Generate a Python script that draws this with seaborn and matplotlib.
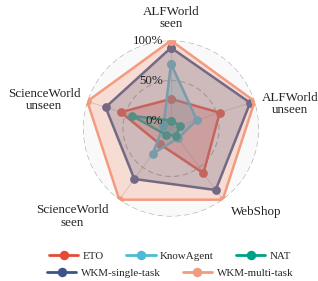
import numpy as np
import pandas as pd
import matplotlib
matplotlib.use("Agg")
import matplotlib.pyplot as plt
from matplotlib.lines import Line2D
import seaborn as sns

categories = ["ALFWorld\nseen", "ALFWorld\nunseen", "WebShop", "ScienceWorld\nseen", "ScienceWorld\nunseen"]
series_names = ["ETO", "KnowAgent", "NAT", "WKM-single-task", "WKM-multi-task"]
eto = [27, 54, 59, 14, 56]
knowagent = [71, 24, 5, 29, 0]
nat = [0, 2, 1, 0, 41]
wkm_single = [91, 94, 85, 68, 76]
wkm_multi = [100, 100, 100, 100, 100]
r_ticks = [0, 50, 100]
r_tick_labels = ["0%", "50%", "100%"]
colors = ["#E64B35", "#4DBBD5", "#00A087", "#3C5488", "#F39B7F"]

sns.set_style("white")
plt.rcParams["font.family"] = ["Liberation Serif", "DejaVu Serif"]

values = [eto, knowagent, nat, wkm_single, wkm_multi]
n = len(categories)
angles = np.linspace(0, 2 * np.pi, n, endpoint=False)

rows = []
for name, vals in zip(series_names, values):
    for i in list(range(n)) + [0]:
        rows.append({"model": name, "theta": angles[i], "value": vals[i]})
df = pd.DataFrame(rows)

fig = plt.figure(figsize=(3.18, 2.81), dpi=100)
ax = fig.add_axes([0.261, 0.2295, 0.5535, 0.6263], polar=True)
ax.set_theta_offset(np.pi / 2)
ax.set_theta_direction(-1)
ax.set_facecolor("#f9f9f9")
ax.spines["polar"].set_visible(False)

for k, (name, col) in enumerate(zip(series_names, colors)):
    sub = df[df["model"] == name]
    sns.lineplot(data=sub, x="theta", y="value", sort=False, estimator=None,
                 color=col, marker="o", markersize=6.3, markeredgewidth=0,
                 linewidth=1.8, ax=ax, legend=False, zorder=3 + k)
    ax.fill(sub["theta"].values, sub["value"].values, color=col, alpha=0.3,
            linewidth=0, zorder=2 + k)

ax.set_xlabel("")
ax.set_ylabel("")
ax.set_ylim(-10, 100)
ax.set_yticks(r_ticks)
ax.set_yticklabels([])
ax.set_xticks(angles)
ax.set_xticklabels([])
ax.yaxis.grid(True, linestyle=(0, (5, 3)), color="#aaaaaa", linewidth=0.8)
ax.xaxis.grid(True, linestyle="-", color="#cccccc", linewidth=0.6)
ax.tick_params(length=0)

for v, lab in zip(r_ticks, r_tick_labels):
    ax.annotate(lab, xy=(0, v), xytext=(-8, 0), textcoords="offset pixels",
                ha="right", va="center", fontsize=9.4, color="#222222", zorder=20)

offsets = [(0, 22.5), (35, -2.7), (34, -12.3), (-46.8, -16.8), (-43, 1.3)]
for ang, lab, off in zip(angles, categories, offsets):
    ax.annotate(lab, xy=(ang, 100), xytext=off, textcoords="offset pixels",
                ha="center", va="center", fontsize=9.4, color="#222222",
                linespacing=1.05, annotation_clip=False)

handles = [Line2D([0], [0], color=c, lw=2.0, marker="o", markersize=6.8,
                  markeredgewidth=0) for c in colors]
leg_kw = dict(loc="center", frameon=False, fontsize=7.9, handlelength=2.7,
              handletextpad=0.4, columnspacing=2.0, borderpad=0, borderaxespad=0)
leg1 = fig.legend(handles[:3], series_names[:3], ncol=3,
                  bbox_to_anchor=(170 / 318, 0.09), **leg_kw)
leg2 = fig.legend(handles[3:], series_names[3:], ncol=2,
                  bbox_to_anchor=(170 / 318, 0.0274), **leg_kw)

fig.savefig("out.png", dpi=100)
